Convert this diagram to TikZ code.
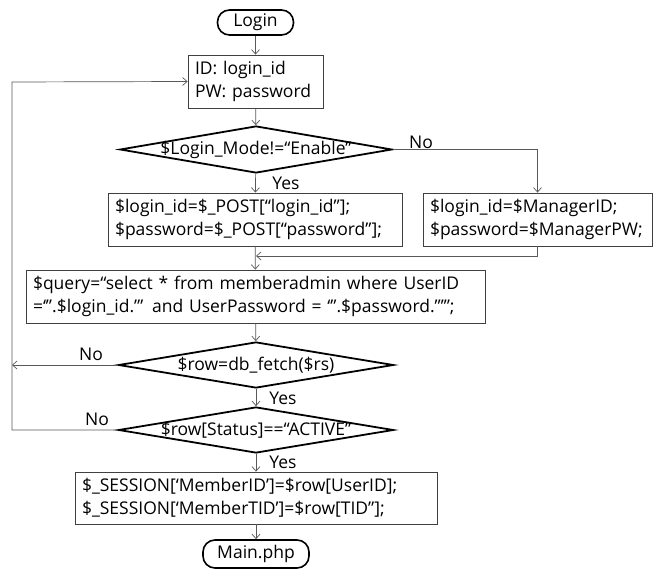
\documentclass[tikz,border=0pt]{standalone}
\usepackage{fontspec}
\setmainfont{Open Sans}
\usetikzlibrary{shapes.geometric,arrows.meta}

\tikzset{
  x=1pt, y=-1pt,
  every node/.style={font=\fontsize{17.5}{23}\selectfont, text=black},
  procbox/.style={draw=black!75, line width=0.8pt, rectangle, inner xsep=7pt,
                  inner ysep=0pt, align=left},
  termbox/.style={draw=black, line width=1.6pt, rounded corners=12pt,
                  inner sep=0pt},
  decision/.style={draw=black, line width=1.8pt, diamond, inner sep=0pt},
  flow/.style={draw=black!65, line width=0.7pt,
               -{Straight Barb[length=4.5pt,width=8pt]}},
  lbl/.style={inner sep=0pt}
}

\begin{document}
\begin{tikzpicture}
\useasboundingbox (0,0) rectangle (653,569);

% terminals
\node[termbox, minimum width=76pt, minimum height=25pt] (login) at (255.5,22.5) {Login};
\node[termbox, minimum width=106pt, minimum height=28pt] (main) at (256,554) {Main.php};

% process boxes
\node[procbox, minimum height=53pt, text width=121pt] (idbox) at (255.5,81.5)
  {ID: login\_id\\PW: password};
\node[procbox, minimum height=53pt, text width=280pt] (post) at (255,219.5)
  {\$login\_id=\$\_POST[“login\_id”];\\\$password=\$\_POST[“password”];};
\node[procbox, minimum height=53pt, text width=215pt] (mgr) at (537.5,219.5)
  {\$login\_id=\$ManagerID;\\\$password=\$ManagerPW;};
\node[procbox, minimum height=53pt, text width=445pt] (query) at (255.5,296.5)
  {\$query=“select * from memberadmin where UserID\\=‘”.\$login\_id.”’ and UserPassword = ‘”.\$password.”’”;};
\node[procbox, minimum height=52pt, text width=348pt] (sess) at (256,498)
  {\$\_SESSION[‘MemberID’]=\$row[UserID];\\\$\_SESSION[‘MemberTID’]=\$row[TID”];};

% decisions
\node[decision, minimum width=272pt, minimum height=47pt] (d1) at (256,149.5)
  {\makebox[0pt]{\$Login\_Mode!=“Enable”}};
\node[decision, minimum width=275pt, minimum height=46pt] (d2) at (256,365)
  {\makebox[0pt]{\$row=db\_fetch(\$rs)}};
\node[decision, minimum width=275pt, minimum height=46pt] (d3) at (256,430)
  {\makebox[0pt]{\$row[Status]==“ACTIVE”}};

% helper points
\coordinate (merge) at (256,256);
\coordinate (loopTop) at (12,82);
\coordinate (loopMid) at (12,365);
\coordinate (loopBot) at (12,430);

% main flow
\draw[flow] (login) -- (idbox);
\draw[flow] (idbox) -- (d1);
\draw[flow] (d1) -- (post);
\draw[flow] (d1.east) -| (mgr.north);
\draw[flow] (post) -- (query);
\draw[flow] (mgr.south) |- (merge);
\draw[flow] (query) -- (d2);
\draw[flow] (d2) -- (d3);
\draw[flow] (d3) -- (sess);
\draw[flow] (sess) -- (main);

% retry loop
\draw[flow] (d2.west) -- (loopMid);
\draw[flow] (d3.west) -- (loopBot) -- (loopTop) -- (idbox.west);

% branch labels
\node[lbl] (no1) at (421,142) {No};
\node[lbl] (yes1) at (286,183) {Yes};
\node[lbl] (no2) at (91,354) {No};
\node[lbl] (yes2) at (283,398) {Yes};
\node[lbl] (no3) at (97,419) {No};
\node[lbl] (yes3) at (283,462) {Yes};
\end{tikzpicture}
\end{document}
